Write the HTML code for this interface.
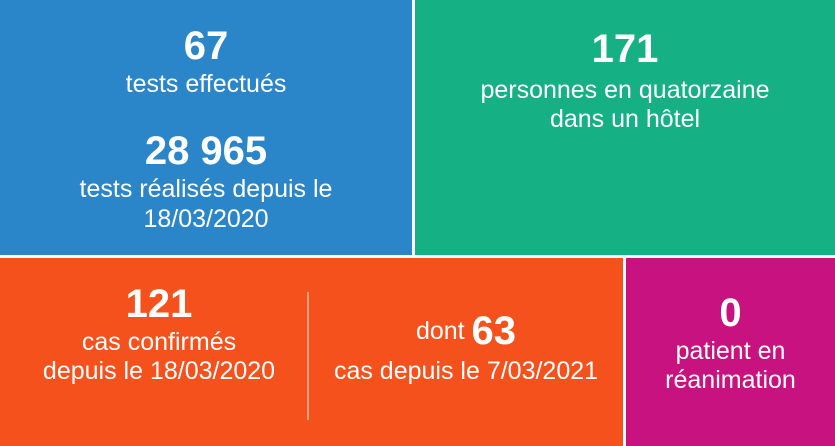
<!DOCTYPE html>
<html><head><style>
body{margin:0;width:835px;height:446px;background:#fff;position:relative;overflow:hidden;font-family:"Liberation Sans",sans-serif;color:#fff}
.bg{position:absolute}
.x{position:absolute;text-align:center;white-space:nowrap}
.n{font-weight:bold;font-size:40px;line-height:40px}
.t{font-size:25px;line-height:30px}
</style></head><body>
<div class="bg" style="left:0;top:0;width:412px;height:255px;background:#2a85c9"></div>
<div class="bg" style="left:415px;top:0;width:420px;height:255px;background:#15b184"></div>
<div class="bg" style="left:0;top:258px;width:623px;height:188px;background:#f5511d"></div>
<div class="bg" style="left:626px;top:258px;width:209px;height:188px;background:#c8127f"></div>
<div style="position:absolute;left:307px;top:292px;width:2px;height:128px;background:#f9a080"></div>

<div class="x n" style="left:0;width:412px;top:26px">67</div>
<div class="x t" style="left:0;width:412px;top:69px">tests effectués</div>
<div class="x n" style="left:0;width:412px;top:131px">28 965</div>
<div class="x t" style="left:0;width:412px;top:174px">tests réalisés depuis le</div>
<div class="x t" style="left:0;width:412px;top:204px">18/03/2020</div>

<div class="x n" style="left:415px;width:420px;top:29px">171</div>
<div class="x t" style="left:415px;width:420px;top:75px">personnes en quatorzaine</div>
<div class="x t" style="left:415px;width:420px;top:104px">dans un hôtel</div>

<div class="x n" style="left:0;width:318px;top:284px">121</div>
<div class="x t" style="left:0;width:318px;top:327px">cas confirmés</div>
<div class="x t" style="left:0;width:318px;top:356px">depuis le 18/03/2020</div>

<div class="x" style="left:309px;width:314px;top:311px"><span class="t" style="vertical-align:middle">dont </span><span class="n" style="vertical-align:middle">63</span></div>
<div class="x t" style="left:309px;width:314px;top:356px">cas depuis le 7/03/2021</div>

<div class="x n" style="left:626px;width:209px;top:293px">0</div>
<div class="x t" style="left:626px;width:209px;top:336px">patient en</div>
<div class="x t" style="left:626px;width:209px;top:365px">réanimation</div>
</body></html>
